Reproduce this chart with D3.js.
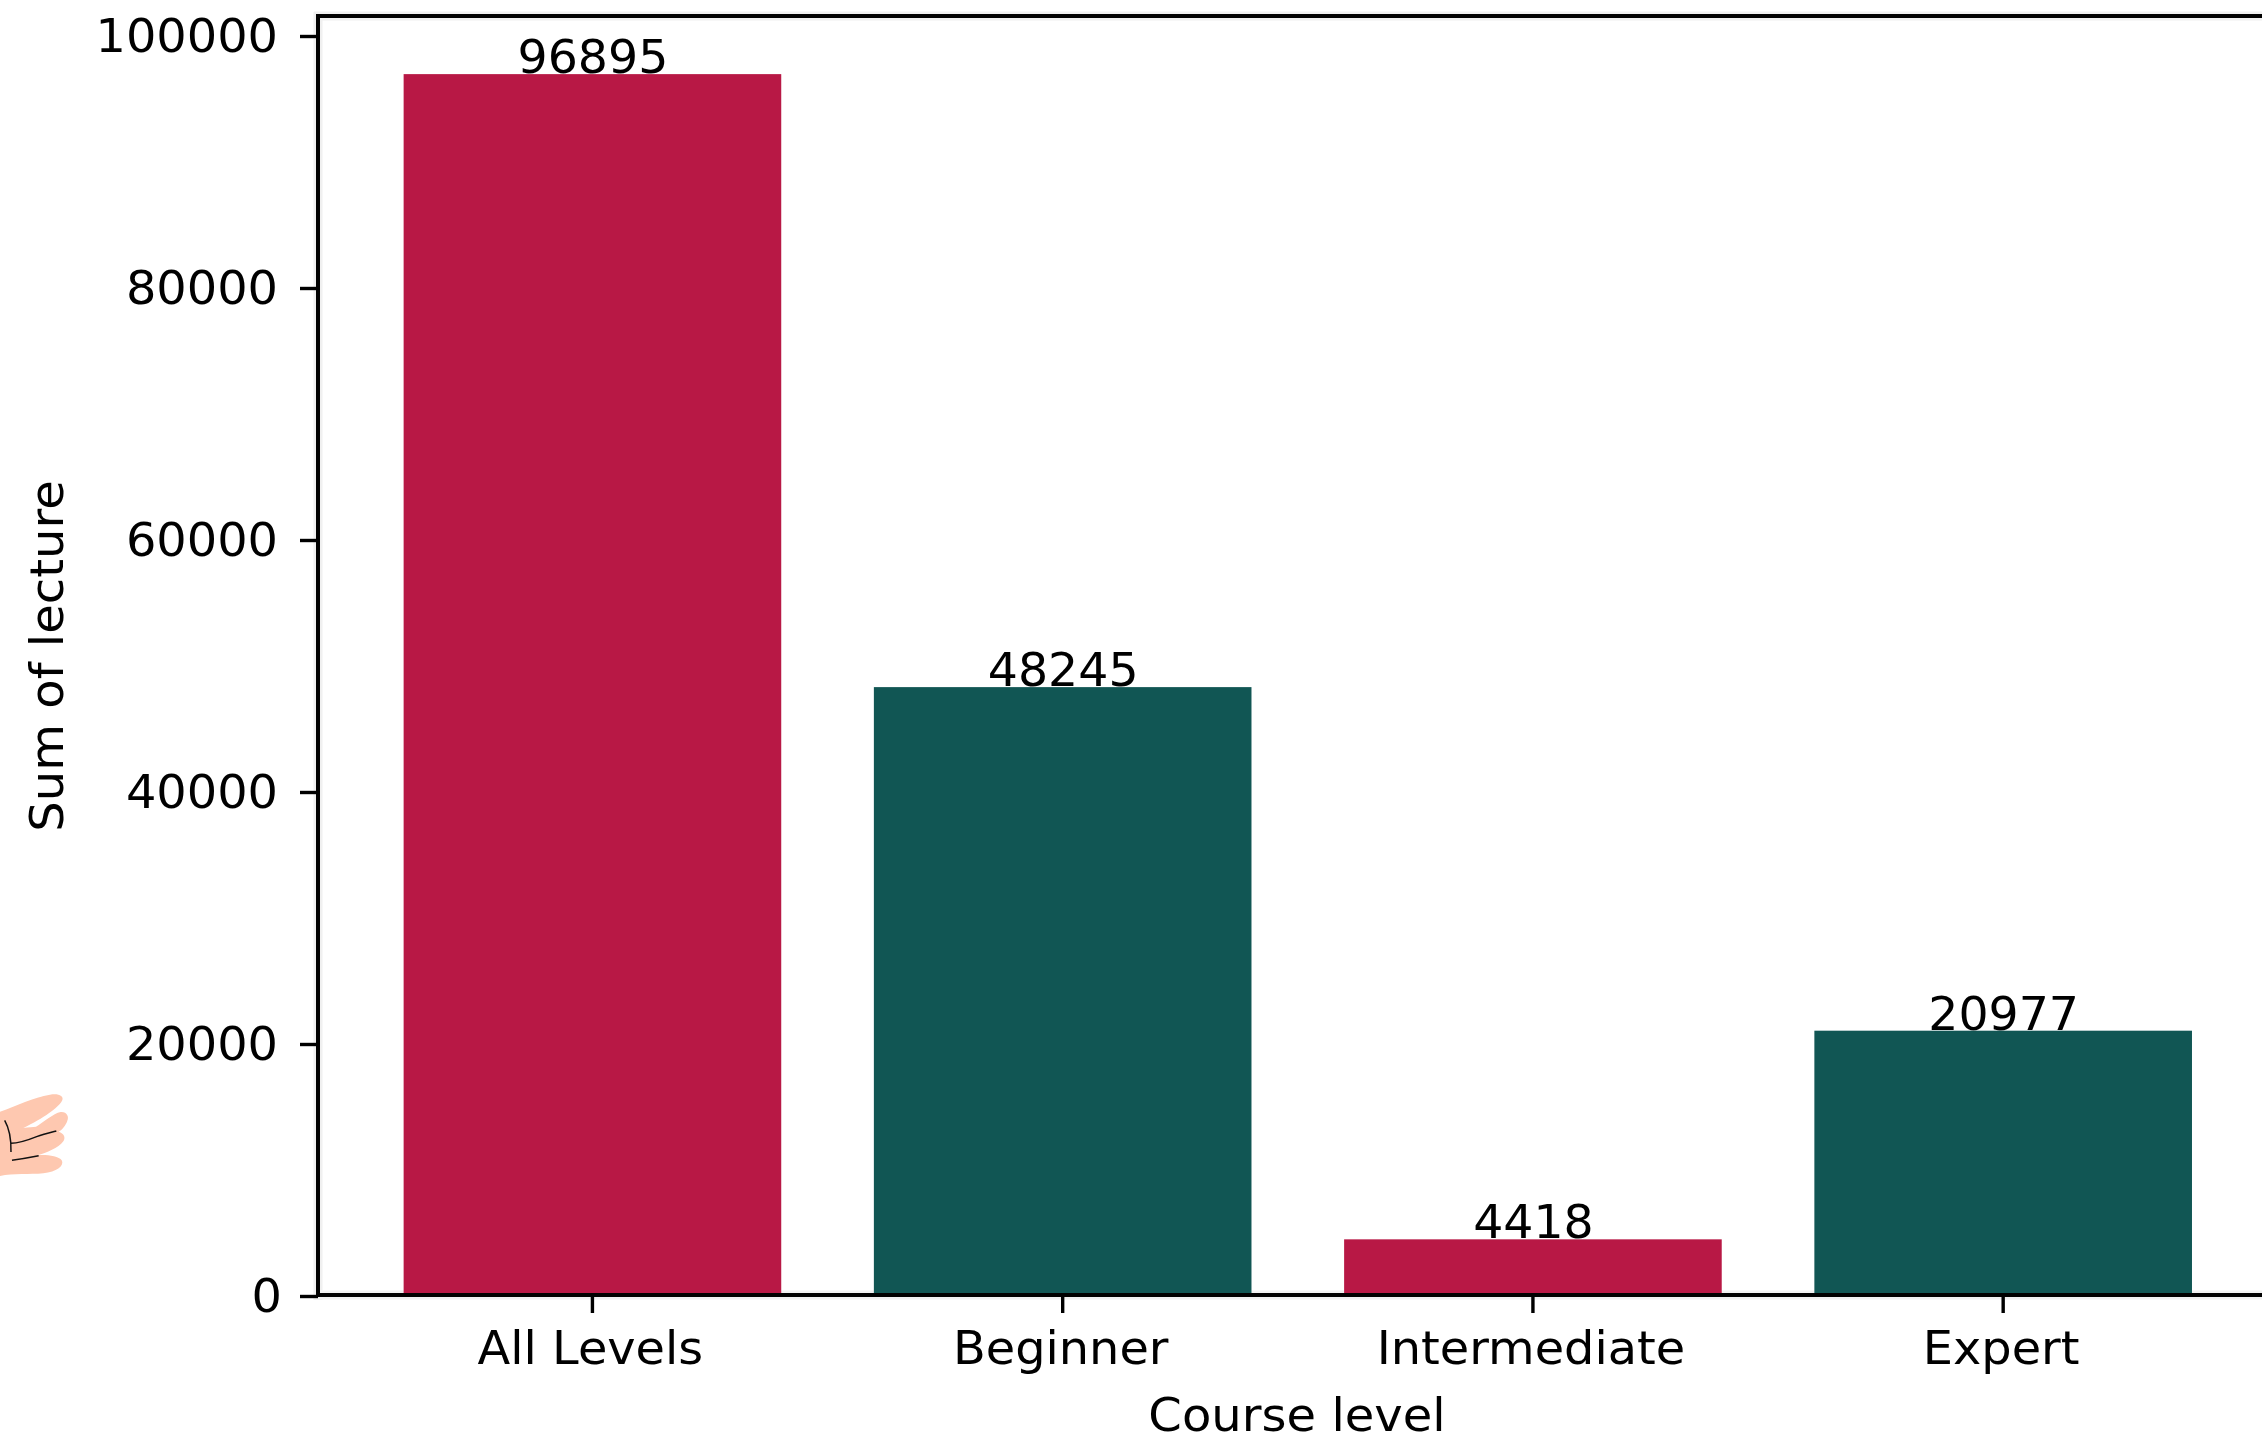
<!DOCTYPE html>
<html>
<head>
<meta charset="utf-8">
<script src="https://cdn.jsdelivr.net/npm/d3@7/dist/d3.min.js"></script>
<style>
html,body{margin:0;padding:0;background:#fff;}
svg{display:block;}
text{font-family:"DejaVu Sans",sans-serif;fill:#050505;filter:url(#soft);}
</style>
</head>
<body>
<div id="chart"></div>
<script>
const categories = ["All Levels", "Beginner", "Intermediate", "Expert"];
const lectureSums = [96895, 48245, 4418, 20977];
const yTickValues = [0, 20000, 40000, 60000, 80000, 100000];
const barColors = ["#b81845", "#115654", "#b81845", "#115654"];
const xAxisTitle = "Course level";
const yAxisTitle = "Sum of lecture";

const W = 2262, H = 1437, FS = 46, STRETCH = 1.04;
const svg = d3.select("#chart").append("svg").attr("width", W).attr("height", H);
svg.append("defs").append("filter").attr("id", "soft")
  .attr("x", "-5%").attr("y", "-10%").attr("width", "110%").attr("height", "120%")
  .append("feGaussianBlur").attr("stdDeviation", 0.6);

const x = d3.scaleBand().domain(categories).range([356.6, 2239]).paddingInner(0.197).paddingOuter(0.1);
const y = d3.scaleLinear().domain([0, 100000]).range([1295, 35]);

// faint halo hugging the frame lines
const halo = svg.append("g").attr("stroke", "#f0f0f0").attr("stroke-width", 9);
halo.append("line").attr("x1", 318).attr("x2", 318).attr("y1", 12).attr("y2", 1300);
halo.append("line").attr("x1", 314).attr("x2", W).attr("y1", 16).attr("y2", 16);
halo.append("line").attr("x1", 314).attr("x2", W).attr("y1", 1295).attr("y2", 1295);

// value labels sit beneath the bars, clipped by their tops
svg.append("g").selectAll("text").data(lectureSums).join("text")
  .attr("transform", (d, i) => `translate(${x(categories[i]) + x.bandwidth() / 2 + 0.5},${y(d) - 1}) scale(1.03,1)`)
  .attr("text-anchor", "middle")
  .attr("font-size", FS)
  .text(d => d);

svg.append("g").selectAll("rect").data(lectureSums).join("rect")
  .attr("x", (d, i) => x(categories[i]))
  .attr("y", d => y(d))
  .attr("width", x.bandwidth())
  .attr("height", d => y(0) - y(d))
  .attr("fill", (d, i) => barColors[i]);

const yAxis = svg.append("g").attr("transform", "translate(318,1)")
  .call(d3.axisLeft(y).tickValues(yTickValues).tickFormat(d3.format("d")).tickSize(18).tickPadding(22));
yAxis.select(".domain").remove();
yAxis.selectAll("line").attr("stroke", "#000").attr("stroke-width", 3.4);
yAxis.selectAll("text")
  .attr("font-size", FS).attr("font-family", '"DejaVu Sans"').attr("fill", "#050505")
  .attr("transform", function (d) {
    const ax = +d3.select(this).attr("x");
    return `translate(${ax + (d === 0 ? 4 : 0)},1) scale(${STRETCH},1) translate(${-ax},0)`;
  });

const xAxis = svg.append("g").attr("transform", "translate(0,1295)")
  .call(d3.axisBottom(x).tickSize(18).tickPadding(18));
xAxis.select(".domain").remove();
xAxis.selectAll("line").attr("stroke", "#000").attr("stroke-width", 3.4);
xAxis.selectAll("text")
  .attr("font-size", FS).attr("font-family", '"DejaVu Sans"').attr("fill", "#050505")
  .attr("transform", `translate(-2,0) scale(${STRETCH},1)`);

// axes frame: left, top and bottom spines (the right side runs off the picture)
const spine = svg.append("g").attr("stroke", "#000").attr("stroke-width", 4);
spine.append("line").attr("x1", 318).attr("x2", 318).attr("y1", 14).attr("y2", 1297);
spine.append("line").attr("x1", 316).attr("x2", W).attr("y1", 16).attr("y2", 16);
spine.append("line").attr("x1", 316).attr("x2", W).attr("y1", 1295).attr("y2", 1295);

svg.append("text").attr("transform", `translate(1297,1431) scale(1.045,1)`).attr("text-anchor", "middle")
  .attr("font-size", FS).text(xAxisTitle);
svg.append("text").attr("transform", `translate(63,656) rotate(-90) scale(1.045,1)`).attr("text-anchor", "middle")
  .attr("font-size", FS).text(yAxisTitle);

// decorative hand at the lower-left edge
const hand = svg.append("g").attr("transform", "translate(0,1000) scale(0.3333)");
hand.append("path").attr("fill", "#fec8b0")
  .attr("d", "M0,335 C50,318 100,292 150,284 C175,279 192,288 187,300 C178,322 130,355 70,384 C85,381 100,382 108,380 C130,368 160,340 182,336 C200,334 208,350 202,362 C198,375 186,390 176,395 C192,400 198,412 190,424 C175,445 140,458 112,466 C135,464 175,466 186,482 C192,498 170,515 130,520 C90,524 40,520 0,528 Z");
const handLines = hand.append("g").attr("fill", "none").attr("stroke", "#111").attr("stroke-width", 4.5);
handLines.append("path").attr("d", "M14,361 C25,380 34,410 33,456");
handLines.append("path").attr("d", "M33,430 C60,430 85,420 110,410 C130,403 150,398 169,393");
handLines.append("path").attr("d", "M36,481 C62,477 90,472 116,467");
</script>
</body>
</html>
